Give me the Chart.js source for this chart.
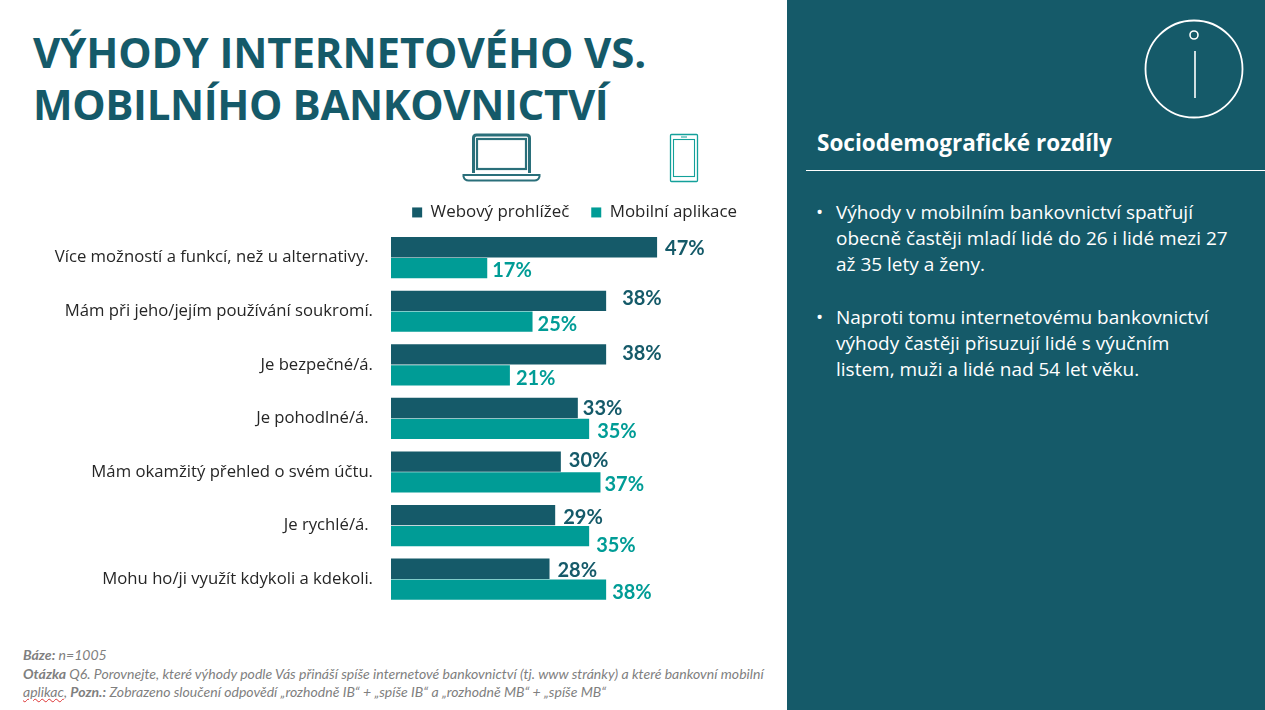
<!DOCTYPE html>
<html lang="cs">
<head>
  <meta charset="UTF-8">
  <title>Výhody internetového vs. mobilního bankovnictví</title>
  <script src="https://cdn.jsdelivr.net/npm/chart.js"></script>
  <style>
    * { box-sizing: border-box; }
    html, body { margin: 0; width: 1265px; height: 710px; overflow: hidden; background: #fff; font-family: 'Open Sans', sans-serif; }
    .abs { position: absolute; white-space: nowrap; }
    #panel { left: 787px; top: 0; width: 478px; height: 710px; background: #155a69; }
    h1 { margin: 0; left: 33px; font-size: 42px; line-height: 52px; font-weight: 700; color: #155a69; }
    #chartBox { left: 0; top: 182px; width: 759px; height: 444px; }
    .foot { left: 23px; font: italic 14.05px/18px Lato, sans-serif; color: #7f7f7f; }
    .foot b { font-weight: 700; }
    .squiggle { text-decoration: underline wavy #d33; text-decoration-thickness: 1px; }
    h2 { margin: 0; left: 817px; top: 127px; font-size: 22.5px; line-height: 32px; font-weight: 700; color: #fff; }
    #rule { left: 806px; top: 170px; width: 459px; height: 1px; background: #fff; }
    .side { left: 836px; font-size: 19px; line-height: 26px; color: #fff; }
    .dot { left: 816px; font-size: 19px; line-height: 26px; color: #fff; }
  </style>
</head>
<body>
  <div class="abs" id="panel"></div>
  <div class="abs" id="chartBox"><canvas id="chart" width="759" height="444"></canvas></div>

  <h1 class="abs" style="top:26px;letter-spacing:-.12px">VÝHODY INTERNETOVÉHO VS.</h1>
  <h1 class="abs" style="top:78px;letter-spacing:-.38px">MOBILNÍHO BANKOVNICTVÍ</h1>

  <svg class="abs" style="left:460px;top:130px" width="84" height="56" fill="none" stroke="#2a6f7a">
    <path d="M13.5 43V8q0-3 3-3h50q3 0 3 3v35" stroke-width="3"/>
    <rect x="17" y="9" width="49" height="30" stroke-width="2.2"/>
    <path d="M3.5 45h76v1.5q-1 4-5 4H8.500q-4 0-5-4z" stroke-width="2"/>
  </svg>
  <svg class="abs" style="left:668px;top:132px" width="32" height="52" fill="none" stroke="#13a09a">
    <rect x="2.500" y="2.500" width="27" height="47" rx="1" stroke-width="1.3"/>
    <rect x="5.500" y="7.500" width="21" height="37" stroke-width="1.1"/>
    <path d="M13 5h6" stroke-width="1"/>
  </svg>

  <div class="abs foot" style="top:646px"><b>Báze:</b> n=1005</div>
  <div class="abs foot" style="top:665px"><b>Otázka</b> Q6. Porovnejte, které výhody podle Vás přináší spíše internetové bankovnictví (tj. www stránky) a které bankovní mobilní</div>
  <div class="abs foot" style="top:683px"><span class="squiggle">aplikac</span>, <b>Pozn.:</b> Zobrazeno sloučení odpovědí „rozhodně IB“ + „spíše IB“ a „rozhodně MB“ + „spíše MB“</div>

  <h2 class="abs">Sociodemografické rozdíly</h2>
  <div class="abs" id="rule"></div>
  <div class="abs dot" style="top:199px">•</div>
  <div class="abs side" style="top:199px">Výhody v mobilním bankovnictví spatřují<br>obecně častěji mladí lidé do 26 i lidé mezi 27<br>až 35 lety a ženy.</div>
  <div class="abs dot" style="top:304px">•</div>
  <div class="abs side" style="top:304px">Naproti tomu internetovému bankovnictví<br>výhody častěji přisuzují lidé s výučním<br>listem, muži a lidé nad 54 let věku.</div>

  <svg class="abs" style="left:1140px;top:15px" width="110" height="110" fill="none" stroke="#fff">
    <circle cx="54" cy="54" r="48.5" stroke-width="1.8"/>
    <circle cx="54" cy="20" r="4" stroke-width="1.6"/>
    <path d="M55 36v47" stroke-width="1.6"/>
  </svg>

  <script>
    const categories = ['Více možností a funkcí, než u alternativy. ', 'Mám při jeho/jejím používání soukromí.', 'Je bezpečné/á.', 'Je pohodlné/á. ', 'Mám okamžitý přehled o svém účtu.', 'Je rychlé/á. ', 'Mohu ho/ji využít kdykoli a kdekoli.'];
    const webovy = [47, 38, 38, 33, 30, 29, 28];
    const mobilni = [17, 25, 21, 35, 37, 35, 38];
    // label nudges from the bar end, the source slide has them placed by hand
    const webovyGapX = [8, 16, 16, 5, 8, 8, 8];
    const webovyGapY = [1, -2, -1, 1, -1, 2, 2];
    const mobilniGapX = [5, 5, 6, 8, 4, 7, 6];
    const mobilniGapY = [2, 3, 3, 3, 2, 9, 3];

    const DARK = '#155a69', TEAL = '#009c96';

    // value labels at the bar ends
    const barLabels = {
      id: 'barLabels',
      afterDatasetsDraw(chart) {
        const ctx = chart.ctx;
        ctx.save();
        ctx.font = 'bold 20px Lato, sans-serif';
        ctx.textBaseline = 'middle';
        [[webovyGapX, webovyGapY], [mobilniGapX, mobilniGapY]].forEach((gaps, d) => {
          ctx.fillStyle = d ? TEAL : DARK;
          chart.getDatasetMeta(d).data.forEach((bar, i) => {
            ctx.fillText(chart.data.datasets[d].data[i] + '%', bar.x + gaps[0][i], bar.y + gaps[1][i]);
          });
        });
        ctx.restore();
      }
    };

    new Chart(document.getElementById('chart'), {
      type: 'bar',
      data: {
        labels: categories,
        datasets: [
          { label: 'Webový prohlížeč', data: webovy, backgroundColor: DARK },
          { label: 'Mobilní aplikace', data: mobilni, backgroundColor: TEAL }
        ]
      },
      options: {
        indexAxis: 'y',
        responsive: false,
        maintainAspectRatio: false,
        animation: false,
        categoryPercentage: 0.78,
        barPercentage: 0.97,
        layout: { padding: 0 },
        plugins: {
          tooltip: { enabled: false },
          legend: {
            position: 'top',
            align: 'end',
            labels: { boxWidth: 10, boxHeight: 10, padding: 22, color: '#262626', font: { family: 'Open Sans', size: 16.9 } }
          }
        },
        scales: {
          x: { min: 0, max: 65, display: false },
          y: {
            afterFit(axis) { axis.width = 391; },
            border: { display: false },
            grid: { display: false },
            ticks: { padding: 10, color: '#262626', font: { family: 'Open Sans', size: 16.7 } }
          }
        }
      },
      plugins: [barLabels]
    });
  </script>
</body>
</html>
